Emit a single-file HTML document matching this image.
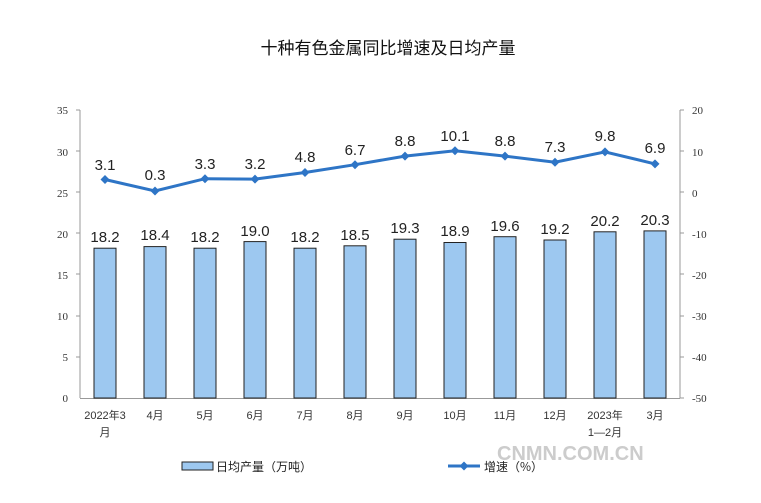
<!DOCTYPE html>
<html><head><meta charset="utf-8"><style>body{margin:0;background:#fff}svg{display:block}</style></head><body>
<svg width="761" height="503" xmlns="http://www.w3.org/2000/svg" font-family="Liberation Sans, Noto Sans CJK SC, sans-serif">
<rect width="761" height="503" fill="#fff"/>
<text x="388" y="54" text-anchor="middle" font-size="17" fill="#111" font-family="Noto Sans CJK SC, sans-serif">十种有色金属同比增速及日均产量</text>
<g stroke="#999" stroke-width="1">
<line x1="80" y1="110" x2="80" y2="398"/>
<line x1="680" y1="110" x2="680" y2="398"/>
<line x1="80" y1="398.5" x2="680" y2="398.5"/>
</g>
<g font-size="11" fill="#333" text-anchor="end" font-family="Liberation Serif, serif">
<text x="68" y="402">0</text><text x="68" y="361">5</text><text x="68" y="320">10</text><text x="68" y="279">15</text><text x="68" y="238">20</text><text x="68" y="197">25</text><text x="68" y="156">30</text><text x="68" y="114">35</text>
</g>
<g stroke="#999"><line x1="76" y1="110" x2="80" y2="110"/><line x1="76" y1="151" x2="80" y2="151"/><line x1="76" y1="192" x2="80" y2="192"/><line x1="76" y1="233" x2="80" y2="233"/><line x1="76" y1="274" x2="80" y2="274"/><line x1="76" y1="316" x2="80" y2="316"/><line x1="76" y1="357" x2="80" y2="357"/>
<line x1="680" y1="110" x2="684" y2="110"/><line x1="680" y1="151" x2="684" y2="151"/><line x1="680" y1="192" x2="684" y2="192"/><line x1="680" y1="233" x2="684" y2="233"/><line x1="680" y1="274" x2="684" y2="274"/><line x1="680" y1="316" x2="684" y2="316"/><line x1="680" y1="357" x2="684" y2="357"/><line x1="680" y1="398" x2="684" y2="398"/></g>
<g font-size="11" fill="#333" text-anchor="start" font-family="Liberation Serif, serif">
<text x="692" y="114">20</text><text x="692" y="156">10</text><text x="692" y="197">0</text><text x="692" y="238">-10</text><text x="692" y="279">-20</text><text x="692" y="320">-30</text><text x="692" y="361">-40</text><text x="692" y="402">-50</text>
</g>
<g fill="#9DC8F0" stroke="#222" stroke-width="1">
<rect x="94" y="248.2" width="22" height="149.8"/>
<rect x="144" y="246.6" width="22" height="151.4"/>
<rect x="194" y="248.2" width="22" height="149.8"/>
<rect x="244" y="241.6" width="22" height="156.4"/>
<rect x="294" y="248.2" width="22" height="149.8"/>
<rect x="344" y="245.8" width="22" height="152.2"/>
<rect x="394" y="239.2" width="22" height="158.8"/>
<rect x="444" y="242.5" width="22" height="155.5"/>
<rect x="494" y="236.7" width="22" height="161.3"/>
<rect x="544" y="240" width="22" height="158"/>
<rect x="594" y="231.8" width="22" height="166.2"/>
<rect x="644" y="230.9" width="22" height="167.1"/>
</g>
<g font-size="15" fill="#222" text-anchor="middle">
<text x="105" y="242">18.2</text><text x="155" y="240">18.4</text><text x="205" y="242">18.2</text><text x="255" y="236">19.0</text><text x="305" y="242">18.2</text><text x="355" y="240">18.5</text><text x="405" y="233">19.3</text><text x="455" y="236">18.9</text><text x="505" y="231">19.6</text><text x="555" y="234">19.2</text><text x="605" y="226">20.2</text><text x="655" y="225">20.3</text>
</g>
<polyline fill="none" stroke="#2E75C6" stroke-width="3" points="105,179.5 155,191 205,178.7 255,179.1 305,172.5 355,164.7 405,156.1 455,150.7 505,156.1 555,162.2 605,151.9 655,163.9"/>
<g fill="#2E75C6">
<path d="M105,175 l4.5,4.5 -4.5,4.5 -4.5,-4.5z"/><path d="M155,186.5 l4.5,4.5 -4.5,4.5 -4.5,-4.5z"/><path d="M205,174.2 l4.5,4.5 -4.5,4.5 -4.5,-4.5z"/><path d="M255,174.6 l4.5,4.5 -4.5,4.5 -4.5,-4.5z"/><path d="M305,168 l4.5,4.5 -4.5,4.5 -4.5,-4.5z"/><path d="M355,160.2 l4.5,4.5 -4.5,4.5 -4.5,-4.5z"/><path d="M405,151.6 l4.5,4.5 -4.5,4.5 -4.5,-4.5z"/><path d="M455,146.2 l4.5,4.5 -4.5,4.5 -4.5,-4.5z"/><path d="M505,151.6 l4.5,4.5 -4.5,4.5 -4.5,-4.5z"/><path d="M555,157.7 l4.5,4.5 -4.5,4.5 -4.5,-4.5z"/><path d="M605,147.4 l4.5,4.5 -4.5,4.5 -4.5,-4.5z"/><path d="M655,159.4 l4.5,4.5 -4.5,4.5 -4.5,-4.5z"/>
</g>
<g font-size="15" fill="#222" text-anchor="middle">
<text x="105" y="170">3.1</text><text x="155" y="180">0.3</text><text x="205" y="169">3.3</text><text x="255" y="169">3.2</text><text x="305" y="162">4.8</text><text x="355" y="155">6.7</text><text x="405" y="146">8.8</text><text x="455" y="141">10.1</text><text x="505" y="146">8.8</text><text x="555" y="152">7.3</text><text x="605" y="141">9.8</text><text x="655" y="153">6.9</text>
</g>
<g font-size="11" fill="#333" text-anchor="middle" font-family="Liberation Sans, Noto Sans CJK SC, sans-serif">
<text x="105" y="419">2022年3</text><text x="105" y="436">月</text>
<text x="155" y="419">4月</text><text x="205" y="419">5月</text><text x="255" y="419">6月</text><text x="305" y="419">7月</text><text x="355" y="419">8月</text><text x="405" y="419">9月</text><text x="455" y="419">10月</text><text x="505" y="419">11月</text><text x="555" y="419">12月</text>
<text x="605" y="419">2023年</text><text x="605" y="436">1—2月</text><text x="655" y="419">3月</text>
</g>
<rect x="182" y="462" width="31" height="8" fill="#9DC8F0" stroke="#222"/>
<text x="216" y="471" font-size="12" fill="#222" font-family="Noto Sans CJK SC, sans-serif">日均产量（万吨）</text>
<line x1="448" y1="466" x2="480" y2="466" stroke="#2E75C6" stroke-width="3"/>
<path d="M464,461.5 l4.5,4.5 -4.5,4.5 -4.5,-4.5z" fill="#2E75C6"/>
<text x="484" y="471" font-size="12" fill="#222" font-family="Noto Sans CJK SC, sans-serif">增速（%）</text>
<text x="497" y="460" font-size="20" fill="#ccc" font-weight="bold">CNMN.COM.CN</text>
</svg>
</body></html>
